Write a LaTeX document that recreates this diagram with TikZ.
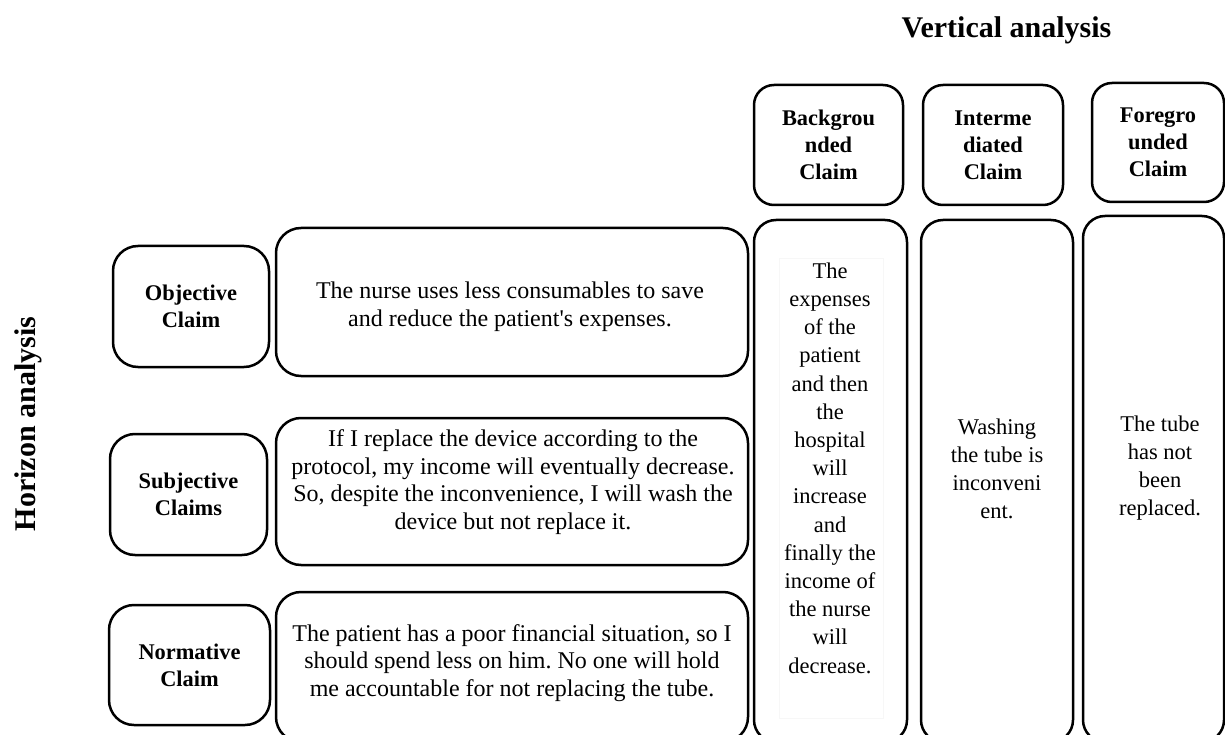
\documentclass[tikz,border=0pt]{standalone}
\usepackage{fontspec}
\setmainfont{Liberation Serif}
\frenchspacing
\begin{document}
\begin{tikzpicture}[x=1pt,y=-1pt,
  box/.style={draw, line width=2.5pt, inner sep=0pt, outer sep=0pt},
  lblbox/.style={box, rounded corners=25pt, align=center,
    font=\bfseries\fontsize{22.4}{27}\selectfont},
  txtbox/.style={box, rounded corners=25pt},
  hdrbox/.style={box, rounded corners=20pt, align=center,
    font=\bfseries\fontsize{22.4}{27}\selectfont},
  colbox/.style={box, rounded corners=22pt},
  bodytxt/.style={inner sep=0pt, align=center, font=\fontsize{24}{27.5}\selectfont\frenchspacing},
  coltxt/.style={inner sep=0pt, align=center, font=\fontsize{22.5}{28.2}\selectfont},
  titletxt/.style={inner sep=0pt, font=\bfseries\fontsize{30}{36}\selectfont}]
\useasboundingbox (0,0) rectangle (1225,735);
\fill[white] (0,0) rectangle (1225,735);
\clip (0,0) rectangle (1225,735);

% titles
\node[titletxt, anchor=base] (vtitle) at (1006.5,38) {Vertical analysis};
\node[titletxt, anchor=base, rotate=90] (htitle) at (35,424) {Horizon analysis};

% header boxes
\node[hdrbox, minimum width=149, minimum height=120] (bgH) at (828.5,145) {Backgrou\\nded\\Claim};
\node[hdrbox, minimum width=140, minimum height=120] (imH) at (993,145) {Interme\\diated\\Claim};
\node[hdrbox, minimum width=132, minimum height=119] (fgH) at (1158,142.5) {Foregro\\unded\\Claim};

% tall column boxes
\node[colbox, minimum width=153, minimum height=522] (bgT) at (830.5,481) {};
\node[colbox, minimum width=152, minimum height=522] (imT) at (997,481) {};
\node[colbox, minimum width=141, minimum height=526] (fgT) at (1153.5,479) {};
\node[draw=black!3, line width=0.6pt, minimum width=104, minimum height=460, inner sep=0pt] (bgInner) at (831,488) {};

\node[coltxt] (bgTx) at (830,468) {The\\expenses\\of the\\patient\\and then\\the\\hospital\\will\\increase\\and\\finally the\\income of\\the nurse\\will\\decrease.};
\node[coltxt] (imTx) at (997,469) {Washing\\the tube is\\inconveni\\ent.};
\node[coltxt] (fgTx) at (1160,468) {The tube\\has not\\been\\replaced.};

% left label boxes
\node[lblbox, minimum width=156, minimum height=121] (objL) at (191,306.5) {Objective\\Claim};
\node[lblbox, minimum width=157, minimum height=121] (subL) at (188.5,494.5) {Subjective\\Claims};
\node[lblbox, minimum width=161, minimum height=120] (norL) at (189.5,665) {Normative\\Claim};

% text boxes
\node[txtbox, minimum width=472, minimum height=148] (objT) at (512,302) {};
\node[txtbox, minimum width=472, minimum height=147] (subT) at (512,491.5) {};
\node[txtbox, minimum width=472, minimum height=150] (norT) at (512,667) {};

\node[bodytxt] (objTx) at (510,306.5) {The nurse uses less consumables to save\\and reduce the patient\textquotesingle s expenses.};
\node[bodytxt] (subTx) at (513,482) {If I replace the device according to the\\protocol, my income will eventually decrease.\\So, despite the inconvenience, I will wash the\\device but not replace it.};
\node[bodytxt] (norTx) at (512,663) {The patient has a poor financial situation, so I\\should spend less on him. No one will hold\\me accountable for not replacing the tube.};
\end{tikzpicture}
\end{document}
